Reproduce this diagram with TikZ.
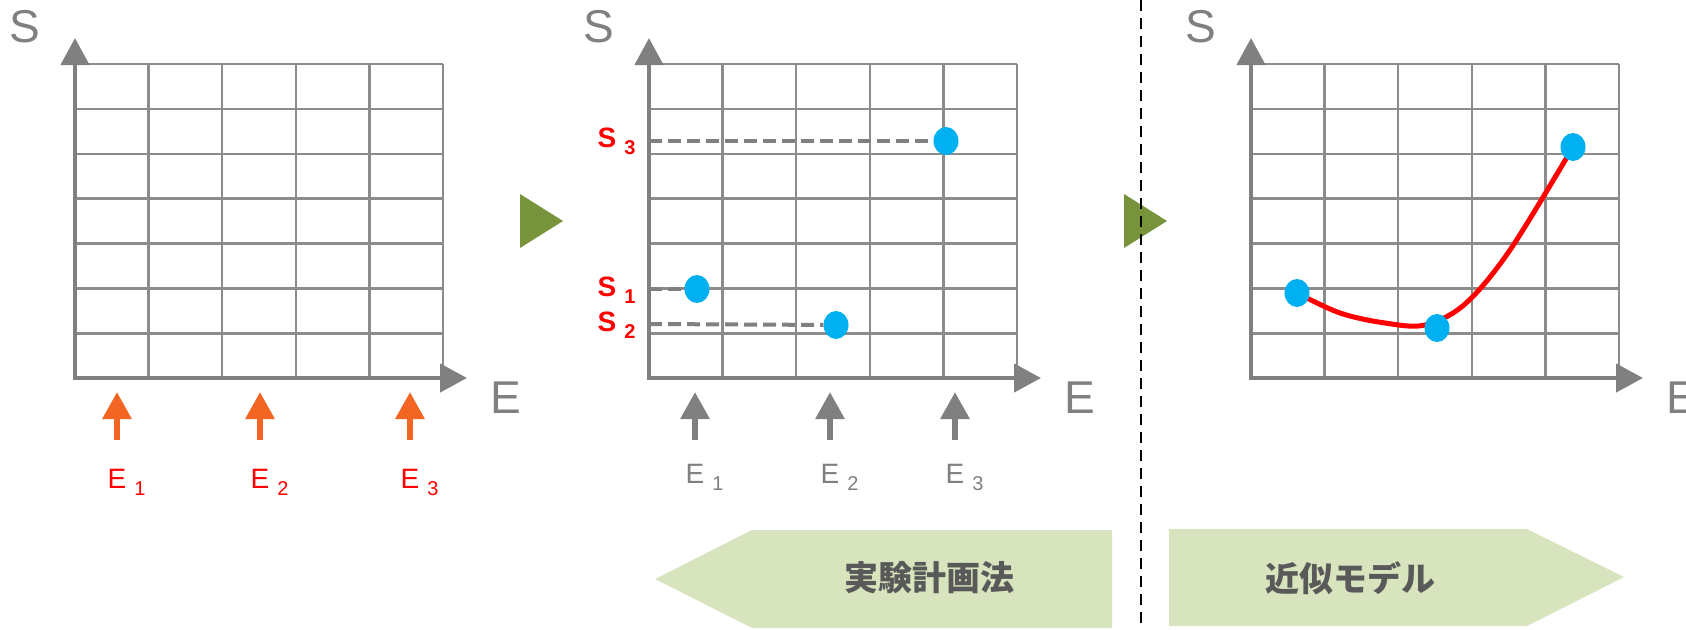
\documentclass[tikz,border=0pt]{standalone}
\usepackage{fontspec}
\setmainfont{Liberation Sans}
\newfontfamily\cjk{Noto Sans CJK JP}
\usetikzlibrary{arrows.meta,shapes.geometric}
\definecolor{gridgray}{HTML}{8C8C8C}
\definecolor{axisgray}{HTML}{808080}
\definecolor{arrorange}{HTML}{F26522}
\definecolor{dotblue}{HTML}{00B0F0}
\definecolor{stepgreen}{HTML}{77933C}
\definecolor{bannergreen}{HTML}{D7E4BD}
\definecolor{bannertext}{HTML}{595959}
\tikzset{
  gridline/.style={gridgray, line width=2.5pt},
  axisline/.style={axisgray, line width=4.5pt, {Triangle[width=28pt,length=27pt]}-{Triangle[width=28pt,length=27pt]}},
  axislab/.style={axisgray, font=\fontsize{46}{46}\selectfont, inner sep=0pt},
  pickarrow/.style={line width=6pt, -{Triangle[width=28pt,length=27pt]}},
  elab/.style={font=\fontsize{28}{28}\selectfont, inner sep=0pt, anchor=base},
  slab/.style={red, font=\bfseries\fontsize{28}{28}\selectfont, inner sep=0pt, anchor=base},
  datadot/.style={ellipse, fill=dotblue, minimum width=25pt, minimum height=28pt, inner sep=0pt},
  levelline/.style={axisgray, line width=4pt, dash pattern=on 13pt off 6pt},
  fitcurve/.style={red, line width=5pt, line cap=round},
  sepline/.style={black, line width=2pt, dash pattern=on 11pt off 7pt},
  bannerlab/.style={bannertext, font=\cjk\bfseries\fontsize{34}{34}\selectfont, inner sep=0pt},
}
\newcommand{\withsub}[2]{#1\rlap{\kern8pt\raisebox{-7pt}{\fontsize{20}{20}\selectfont #2}}}
\begin{document}
\begin{tikzpicture}[x=1pt,y=-1pt]
  \useasboundingbox (0,0) rectangle (1686,629);
  % three grids with axes
  \foreach \x/\p in {75/a,649/b,1251/c}{
    \foreach \i in {1,...,5} \draw[gridline] ({\x+\i*73.6},64) -- ({\x+\i*73.6},378);
    \foreach \j in {0,...,6} \draw[gridline] (\x,{64+\j*44.9}) -- ({\x+368},{64+\j*44.9});
    \coordinate (o\p) at (\x,378);
    \coordinate (yt\p) at (\x,38);
    \coordinate (xt\p) at ({\x+392},378);
    \draw[axisline] (yt\p) -- (o\p) -- (xt\p);
    \node[axislab] (S\p) at ({\x-50},27) {S};
    \node[axislab, anchor=west] (E\p) at ({\x+415},398) {E};
  }
  % chosen E values
  \foreach \ex/\n in {117/1,260/2,410/3}{
    \coordinate (pa\n) at (\ex,440);
    \coordinate (pt\n) at (\ex,392);
    \draw[pickarrow, arrorange] (pa\n) -- (pt\n);
    \node[elab, red] (ea\n) at (\ex,488) {\withsub{E}{\n}};
  }
  \foreach \ex/\n in {695/1,830/2,955/3}{
    \coordinate (pb\n) at (\ex,440);
    \coordinate (qb\n) at (\ex,392);
    \draw[pickarrow, axisgray] (pb\n) -- (qb\n);
    \node[elab, axisgray] (eb\n) at (\ex,483) {\withsub{E}{\n}};
  }
  % measured S values
  \node[datadot] (d1) at (697,289) {};
  \node[datadot] (d2) at (836,325) {};
  \node[datadot] (d3) at (946,141) {};
  \coordinate (l1) at (649,289);
  \coordinate (l2) at (649,324);
  \coordinate (l3) at (649,141);
  \draw[levelline] (l1) -- (d1);
  \draw[levelline] (l2) -- (d2);
  \draw[levelline] (l3) -- (d3);
  \node[slab] (s1) at (607,296) {\withsub{S}{1}};
  \node[slab] (s2) at (607,331) {\withsub{S}{2}};
  \node[slab] (s3) at (607,147) {\withsub{S}{3}};
  % fitted model
  \coordinate (q1) at (1297,293);
  \coordinate (q2) at (1437,328);
  \coordinate (q3) at (1573,147);
  \draw[fitcurve] plot[smooth, tension=0.55] coordinates {(q1) (1340,313) (1385,323) (1425,325) (1465,304) (1510,250) (q3)};
  \node[datadot] (c1) at (q1) {};
  \node[datadot] (c2) at (q2) {};
  \node[datadot] (c3) at (q3) {};
  % steps
  \fill[stepgreen] (520,194) -- (563,221) -- (520,248) -- cycle;
  \fill[stepgreen] (1124,194) -- (1167,221) -- (1124,248) -- cycle;
  \coordinate (sepT) at (1141,0);
  \coordinate (sepB) at (1141,629);
  \draw[sepline] (sepT) -- (sepB);
  % banners
  \fill[bannergreen] (655,579) -- (752,530) -- (1112,530) -- (1112,628) -- (752,628) -- cycle;
  \node[bannerlab] (doe) at (929,578) {実験計画法};
  \fill[bannergreen] (1169,529) -- (1527,529) -- (1624,577) -- (1527,626) -- (1169,626) -- cycle;
  \node[bannerlab] (model) at (1350,578) {近似モデル};
\end{tikzpicture}
\end{document}
